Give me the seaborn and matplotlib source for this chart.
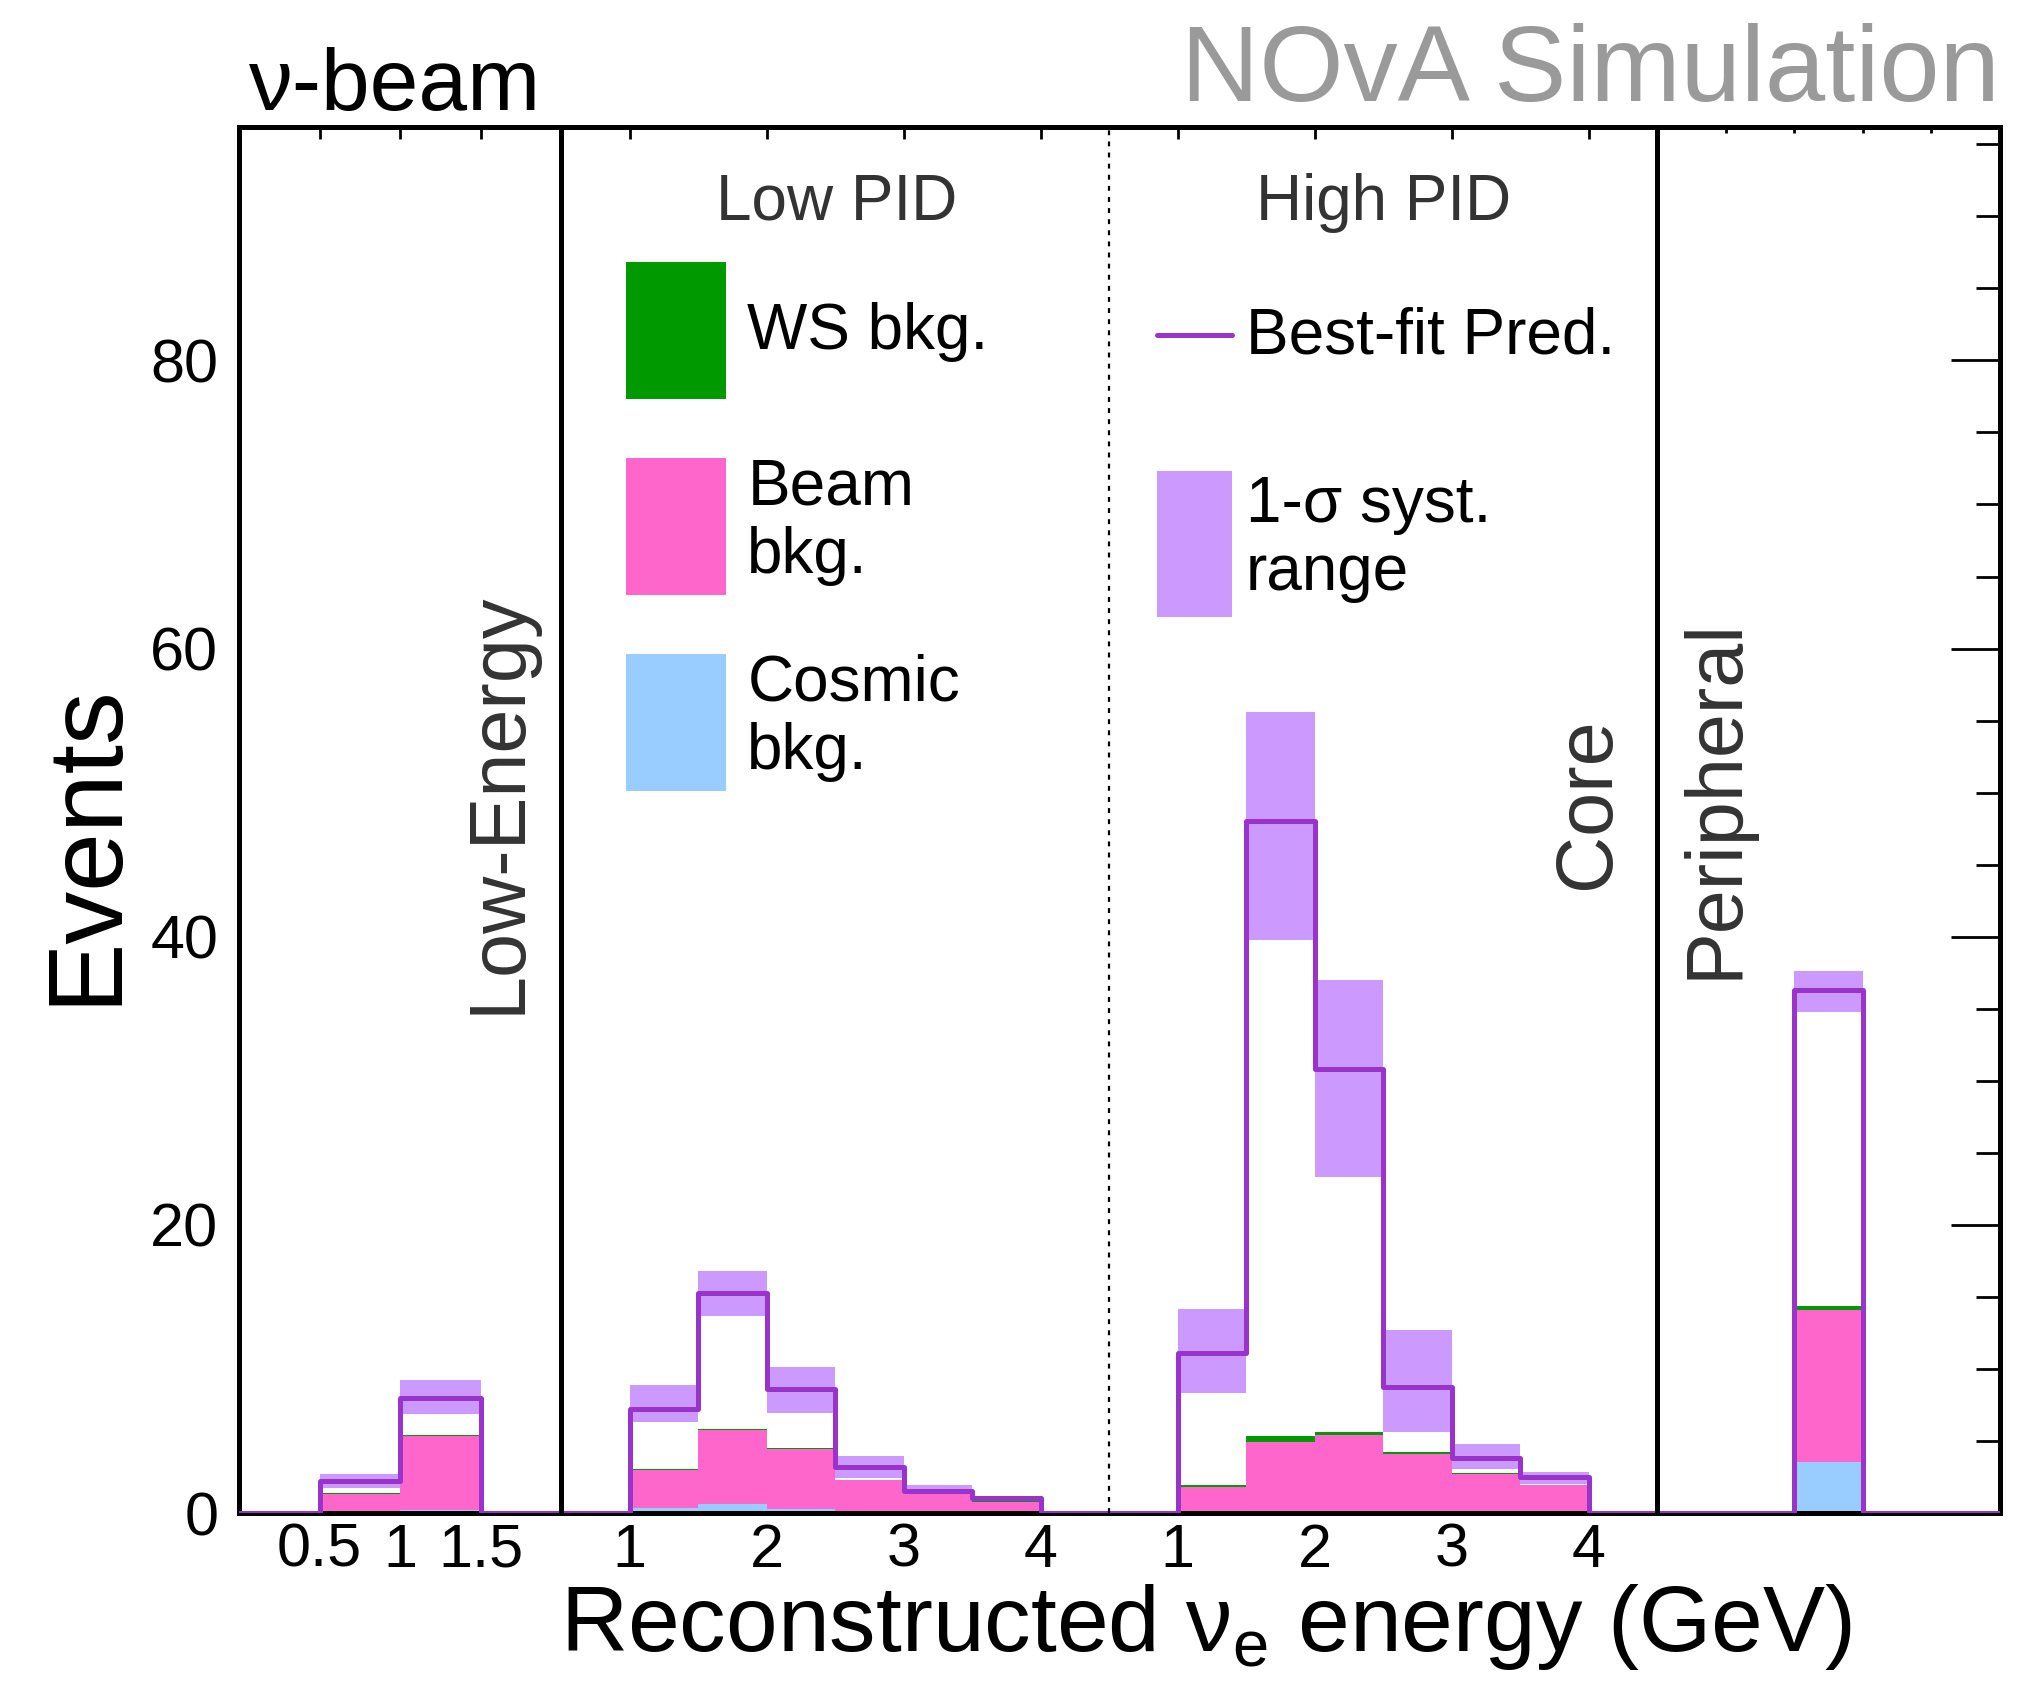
import numpy as np
import pandas as pd
import matplotlib
matplotlib.use('Agg')
import matplotlib.pyplot as plt
import seaborn as sns
from matplotlib.patches import Patch
from matplotlib.lines import Line2D

# ==============================================
# DATOS
# ==============================================
# Segmentos: Low-Energy (4 bines), Core Low PID (8), Core High PID (8), Peripheral (5)
le_pred = [0, 2.25, 7.95, 0]
le_hi = [0, 2.68, 9.25, 0]
le_lo = [0, 1.75, 6.88, 0]
le_cosmic = [0, 0.03, 0.18, 0]
le_beam = [0, 1.30, 5.15, 0]
le_ws = [0, 0.04, 0.06, 0]

low_pred = [0, 7.2, 15.25, 8.6, 3.16, 1.55, 1.02, 0]
low_hi = [0, 8.9, 16.8, 10.16, 3.93, 1.94, 1.15, 0]
low_lo = [0, 6.35, 13.67, 6.97, 2.40, 1.40, 0.90, 0]
low_cosmic = [0, 0.32, 0.60, 0.28, 0.05, 0.02, 0.01, 0]
low_beam = [0, 2.67, 5.13, 4.18, 2.23, 1.28, 0.78, 0]
low_ws = [0, 0.06, 0.07, 0.04, 0.03, 0.02, 0.01, 0]

high_pred = [0, 11.08, 48.0, 30.8, 8.75, 3.79, 2.47, 0]
high_hi = [0, 14.18, 55.6, 37.0, 12.68, 4.78, 2.82, 0]
high_lo = [0, 8.36, 39.8, 23.3, 5.59, 3.05, 2.01, 0]
high_cosmic = [0, 0.02, 0.05, 0.05, 0.03, 0.02, 0.01, 0]
high_beam = [0, 1.76, 4.89, 5.33, 4.06, 2.66, 1.93, 0]
high_ws = [0, 0.18, 0.37, 0.21, 0.11, 0.09, 0.03, 0]

per_pred = [0, 0, 36.3, 0, 0]
per_hi = [0, 0, 37.6, 0, 0]
per_lo = [0, 0, 34.8, 0, 0]
per_cosmic = [0, 0, 3.56, 0, 0]
per_beam = [0, 0, 10.54, 0, 0]
per_ws = [0, 0, 0.24, 0, 0]

le_tick_labels = ['0.5', '1', '1.5']
core_tick_labels = ['1', '2', '3', '4']
core_tick_energies = [1, 2, 3, 4]

# ==============================================
# ESTILO
# ==============================================
sns.set_style('white')
plt.rcParams['font.family'] = ['Liberation Sans', 'DejaVu Sans']
plt.rcParams['mathtext.fontset'] = 'custom'
plt.rcParams['mathtext.rm'] = 'Liberation Sans'
plt.rcParams['text.color'] = 'black'
plt.rcParams['axes.labelcolor'] = 'black'
plt.rcParams['xtick.color'] = 'black'
plt.rcParams['ytick.color'] = 'black'

C_WS = '#009900'
C_BEAM = '#ff66cc'
C_COSMIC = '#99ccff'
C_BAND = '#cc99ff'
C_PRED = '#9933cc'
C_TXT = '#333333'

LEG_FS = 46

# ==============================================
# EJE X COMPUESTO
# ==============================================
le_end = 2.35
low_end = le_end + 4.0
high_end = low_end + 4.0
per_end = high_end + 2.5

edges = np.concatenate([
    np.linspace(0, le_end, 5),
    le_end + 0.5 * np.arange(1, 9),
    low_end + 0.5 * np.arange(1, 9),
    high_end + 0.5 * np.arange(1, 6),
])
centers = (edges[:-1] + edges[1:]) / 2
widths = np.diff(edges)
bin_list = [float(e) for e in edges]

pred = np.concatenate([le_pred, low_pred, high_pred, per_pred])
hi = np.concatenate([le_hi, low_hi, high_hi, per_hi])
lo = np.concatenate([le_lo, low_lo, high_lo, per_lo])
cosmic = np.concatenate([le_cosmic, low_cosmic, high_cosmic, per_cosmic])
beam = np.concatenate([le_beam, low_beam, high_beam, per_beam])
ws = np.concatenate([le_ws, low_ws, high_ws, per_ws])

nb = len(centers)
df_stack = pd.DataFrame({
    'x': np.tile(centers, 3),
    'w': np.concatenate([ws, beam, cosmic]),
    'comp': np.repeat(['WS', 'Beam', 'Cosmic'], nb),
})
df_pred = pd.DataFrame({'x': centers, 'w': pred})

# ==============================================
# GRAFICO
# ==============================================
fig = plt.figure(figsize=(20.23, 16.86), dpi=100)
ax = fig.add_axes([239 / 2023, 1 - 1513 / 1686, 1761 / 2023, 1386 / 1686])

# banda 1-sigma
ax.bar(edges[:-1], hi - lo, bottom=lo, width=widths, align='edge',
       color=C_BAND, linewidth=0, zorder=0.8)

# fondos apilados
sns.histplot(data=df_stack, x='x', weights='w', hue='comp',
             hue_order=['WS', 'Beam', 'Cosmic'], multiple='stack',
             bins=bin_list, element='bars', alpha=1, linewidth=0,
             palette={'WS': C_WS, 'Beam': C_BEAM, 'Cosmic': C_COSMIC},
             legend=False, ax=ax)

# prediccion best-fit
sns.histplot(data=df_pred, x='x', weights='w', bins=bin_list, element='step',
             fill=False, color=C_PRED, linewidth=3.6, ax=ax, zorder=3)

# separadores de segmentos
ax.axvline(le_end, color='black', lw=3.6, zorder=4)
ax.axvline(high_end, color='black', lw=3.6, zorder=4)
ax.axvline(low_end, color='black', lw=1.6, ls=(0, (2.2, 2.8)), zorder=4)

ax.set_xlim(0, per_end)
ax.set_ylim(0, 96.2)

# ticks
le_ticks = [float(e) for e in edges[1:4]]
low_ticks = [le_end + e - 0.5 for e in core_tick_energies]
high_ticks = [low_end + e - 0.5 for e in core_tick_energies]
ax.set_xticks(le_ticks + low_ticks + high_ticks,
              le_tick_labels + core_tick_labels + core_tick_labels)
minor_x = [le_end + 0.5 * k for k in (3, 5, 7)] + \
          [low_end + 0.5 * k for k in (3, 5, 7)] + \
          [high_end + 0.5 * k for k in (1, 2, 3, 4)]
ax.set_xticks(minor_x, minor=True)
for t in ax.xaxis.get_major_ticks()[:3]:
    t.tick1line.set_visible(False)
    t.tick2line.set_visible(False)

ax.set_yticks(np.arange(0, 81, 20))
ax.set_yticks(np.arange(0, 96, 5), minor=True)

ax.tick_params(axis='both', which='both', direction='in', top=True, right=True,
               colors='black', labelcolor='black', width=2.0)
ax.tick_params(axis='x', which='major', length=8.6, pad=7, labelsize=44)
ax.tick_params(axis='x', which='minor', length=4.3)
ax.tick_params(axis='y', which='major', length=35, pad=15, labelsize=44)
ax.tick_params(axis='y', which='minor', length=17)

for s in ax.spines.values():
    s.set_linewidth(3.6)
    s.set_color('black')
    s.set_zorder(2.5)

ax.set_xlabel('Reconstructed ν$_\\mathregular{e}$ energy (GeV)', fontsize=67,
              color='black')
ax.xaxis.label.set_va('baseline')
ax.xaxis.set_label_coords(0.549, -0.0995)
ax.set_ylabel('Events', fontsize=76, color='black')
ax.yaxis.label.set_va('center')
ax.yaxis.set_label_coords(-0.0865, 0.483)

# etiquetas de segmentos
ax.text(1.90, 49.3, 'Low-Energy', rotation=90, ha='center', va='center',
        fontsize=57, color=C_TXT)
ax.text(9.85, 49.3, 'Core', rotation=90, ha='center', va='center',
        fontsize=57, color=C_TXT)
ax.text(10.78, 49.6, 'Peripheral', rotation=90, ha='center', va='center',
        fontsize=57, color=C_TXT)
ax.text(4.36, 89.75, 'Low PID', ha='center', va='baseline', fontsize=46, color=C_TXT)
ax.text(8.35, 89.75, 'High PID', ha='center', va='baseline', fontsize=46, color=C_TXT)

# titulos
fig.text(249 / 2023, 1 - 110 / 1686, 'ν-beam', fontsize=63, ha='left',
         va='baseline', color='black')
fig.text(2000 / 2023, 1 - 101 / 1686, 'NOvA Simulation', fontsize=78,
         color='#9a9a9a', ha='right', va='baseline')

# leyendas
h_left = [Patch(facecolor=C_WS, edgecolor='none'),
          Patch(facecolor=C_BEAM, edgecolor='none'),
          Patch(facecolor=C_COSMIC, edgecolor='none')]
leg1 = ax.legend(h_left, ['WS bkg.', 'Beam\nbkg.', 'Cosmic\nbkg.'],
                 loc='upper left', bbox_to_anchor=(626 / 2023, 1 - 262 / 1686),
                 bbox_transform=fig.transFigure, frameon=False, fontsize=LEG_FS,
                 handlelength=1.56, handleheight=2.92, labelspacing=0.92,
                 handletextpad=0.34, borderpad=0, borderaxespad=0)
for t in leg1.get_texts():
    t.set_linespacing(1.17)
    t.set_color('black')
ax.add_artist(leg1)

hh_right = 3.14
h_right = [Line2D([], [], color=C_PRED, lw=3.6),
           Patch(facecolor=C_BAND, edgecolor='none')]
leg2 = ax.legend(h_right, ['Best-fit Pred.', '1-σ syst.\nrange'],
                 loc='upper left', bbox_to_anchor=(1157 / 2023, 1 - 262 / 1686),
                 bbox_transform=fig.transFigure, frameon=False, fontsize=LEG_FS,
                 handlelength=1.17, handleheight=hh_right, labelspacing=0.98,
                 handletextpad=0.22, borderpad=0, borderaxespad=0)
for t in leg2.get_texts():
    t.set_linespacing(1.17)
    t.set_color('black')
# centrar la linea del handle en su fila
leg_line = leg2.legend_handles[0]
desc = 0.35 * LEG_FS * (hh_right - 0.7)
leg_line.set_ydata(np.asarray(leg_line.get_ydata()) - desc / 2)

fig.savefig('out.png', dpi=100)
